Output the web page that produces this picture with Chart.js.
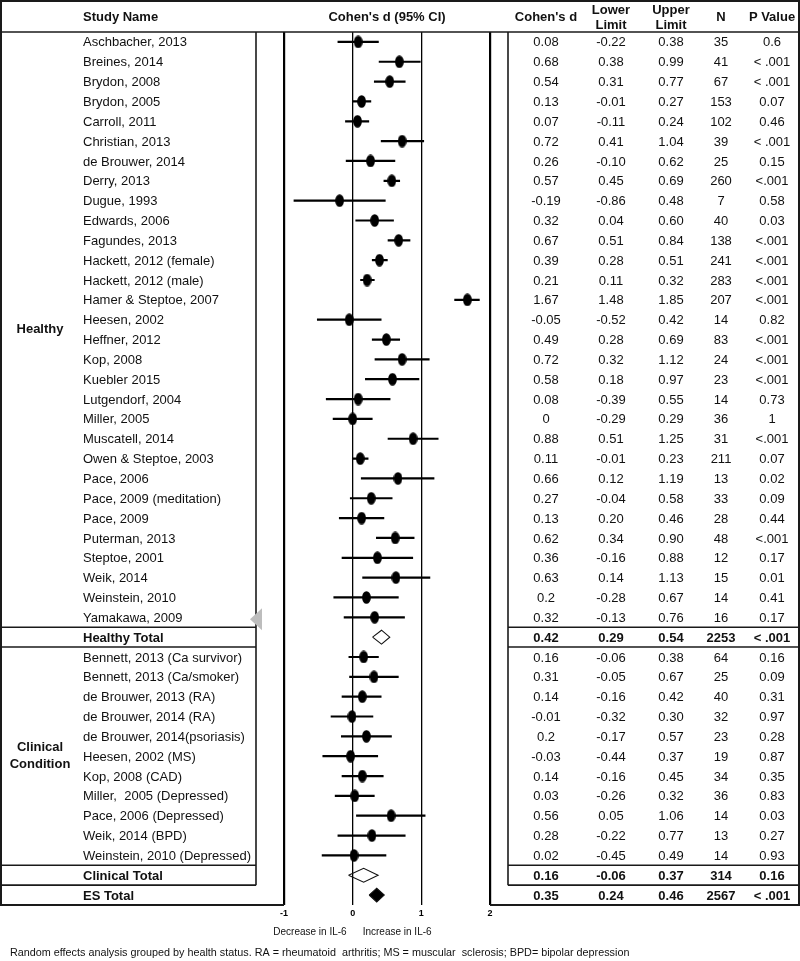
<!DOCTYPE html>
<html>
<head>
<meta charset="utf-8">
<script src="https://cdn.jsdelivr.net/npm/chart.js@4.4.1/dist/chart.umd.min.js"></script>
<style>html,body{margin:0;padding:0;background:#fff}canvas{display:block}</style>
</head>
<body>
<canvas id="c" width="800" height="961"></canvas>
<script>
// ---------- DATA ----------
const healthyNames = ["Aschbacher, 2013","Breines, 2014","Brydon, 2008","Brydon, 2005","Carroll, 2011","Christian, 2013","de Brouwer, 2014","Derry, 2013","Dugue, 1993","Edwards, 2006","Fagundes, 2013","Hackett, 2012 (female)","Hackett, 2012 (male)","Hamer & Steptoe, 2007","Heesen, 2002","Heffner, 2012","Kop, 2008","Kuebler 2015","Lutgendorf, 2004","Miller, 2005","Muscatell, 2014","Owen & Steptoe, 2003","Pace, 2006","Pace, 2009 (meditation)","Pace, 2009","Puterman, 2013","Steptoe, 2001","Weik, 2014","Weinstein, 2010","Yamakawa, 2009"];
const healthyD  = [0.08,0.68,0.54,0.13,0.07,0.72,0.26,0.57,-0.19,0.32,0.67,0.39,0.21,1.67,-0.05,0.49,0.72,0.58,0.08,0,0.88,0.11,0.66,0.27,0.13,0.62,0.36,0.63,0.2,0.32];
const healthyLo = [-0.22,0.38,0.31,-0.01,-0.11,0.41,-0.10,0.45,-0.86,0.04,0.51,0.28,0.11,1.48,-0.52,0.28,0.32,0.18,-0.39,-0.29,0.51,-0.01,0.12,-0.04,-0.20,0.34,-0.16,0.14,-0.28,-0.13];
const healthyLoLabels = ["-0.22","0.38","0.31","-0.01","-0.11","0.41","-0.10","0.45","-0.86","0.04","0.51","0.28","0.11","1.48","-0.52","0.28","0.32","0.18","-0.39","-0.29","0.51","-0.01","0.12","-0.04","0.20","0.34","-0.16","0.14","-0.28","-0.13"];
const healthyHi = [0.38,0.99,0.77,0.27,0.24,1.04,0.62,0.69,0.48,0.60,0.84,0.51,0.32,1.85,0.42,0.69,1.12,0.97,0.55,0.29,1.25,0.23,1.19,0.58,0.46,0.90,0.88,1.13,0.67,0.76];
const healthyN  = [35,41,67,153,102,39,25,260,7,40,138,241,283,207,14,83,24,23,14,36,31,211,13,33,28,48,12,15,14,16];
const healthyP  = ["0.6","< .001","< .001","0.07","0.46","< .001","0.15","<.001","0.58","0.03","<.001","<.001","<.001","<.001","0.82","<.001","<.001","<.001","0.73","1","<.001","0.07","0.02","0.09","0.44","<.001","0.17","0.01","0.41","0.17"];

const clinicalNames = ["Bennett, 2013 (Ca survivor)","Bennett, 2013 (Ca/smoker)","de Brouwer, 2013 (RA)","de Brouwer, 2014 (RA)","de Brouwer, 2014(psoriasis)","Heesen, 2002 (MS)","Kop, 2008 (CAD)","Miller,  2005 (Depressed)","Pace, 2006 (Depressed)","Weik, 2014 (BPD)","Weinstein, 2010 (Depressed)"];
const clinicalD  = [0.16,0.31,0.14,-0.01,0.2,-0.03,0.14,0.03,0.56,0.28,0.02];
const clinicalLo = [-0.06,-0.05,-0.16,-0.32,-0.17,-0.44,-0.16,-0.26,0.05,-0.22,-0.45];
const clinicalHi = [0.38,0.67,0.42,0.30,0.57,0.37,0.45,0.32,1.06,0.77,0.49];
const clinicalN  = [64,25,40,32,23,19,34,36,14,13,14];
const clinicalP  = ["0.16","0.09","0.31","0.97","0.28","0.87","0.35","0.83","0.03","0.27","0.93"];

const summaryNames = ["Healthy Total","Clinical Total","ES Total"];
const summaryD  = [0.42,0.16,0.35];
const summaryLo = [0.29,-0.06,0.24];
const summaryHi = [0.54,0.37,0.46];
const summaryN  = [2253,314,2567];
const summaryP  = ["< .001","0.16","< .001"];
const summaryFilled = [false,false,true];

const groupNames = [["Healthy"],["Clinical","Condition"]];
const xTickValues = [-1,0,1,2];
const xTickLabels = ["-1","0","1","2"];
const headerCols = [["Cohen's d"],["Lower","Limit"],["Upper","Limit"],["N"],["P Value"]];
const axisNotes = ["Decrease in IL-6","Increase in IL-6"];
const footnote = "Random effects analysis grouped by health status. RA = rheumatoid  arthritis; MS = muscular  sclerosis; BPD= bipolar depression";

// ---------- ROW TABLE BUILT FROM ARRAYS ----------
const rows = [];
healthyNames.forEach((nm,i)=>rows.push({name:nm,d:healthyD[i],lo:healthyLo[i],loTxt:healthyLoLabels[i],hi:healthyHi[i],n:healthyN[i],p:healthyP[i],sum:-1}));
rows.push({name:summaryNames[0],d:summaryD[0],lo:summaryLo[0],hi:summaryHi[0],n:summaryN[0],p:summaryP[0],sum:0});
clinicalNames.forEach((nm,i)=>rows.push({name:nm,d:clinicalD[i],lo:clinicalLo[i],hi:clinicalHi[i],n:clinicalN[i],p:clinicalP[i],sum:-1}));
rows.push({name:summaryNames[1],d:summaryD[1],lo:summaryLo[1],hi:summaryHi[1],n:summaryN[1],p:summaryP[1],sum:1});
rows.push({name:summaryNames[2],d:summaryD[2],lo:summaryLo[2],hi:summaryHi[2],n:summaryN[2],p:summaryP[2],sum:2});
const healthyRows = [0, healthyNames.length-1];
const clinicalRows = [healthyNames.length+1, healthyNames.length+clinicalNames.length];

const ciData = [], ptData = [];
const diamondSets = [];
const DH = 0.35;
rows.forEach((r,i)=>{
  if (r.sum < 0) {
    ciData.push({x:r.lo,y:i},{x:r.hi,y:i},{x:null,y:null});
    ptData.push({x:r.d,y:i});
  } else {
    const filled = summaryFilled[r.sum];
    diamondSets.push({
      label: r.name,
      data:[{x:r.lo,y:i},{x:r.d,y:i-DH},{x:r.hi,y:i},{x:r.d,y:i+DH},{x:r.lo,y:i}],
      showLine:true, pointRadius:0, borderColor:'#111', borderWidth:1.1,
      backgroundColor: filled ? '#000' : '#fff', fill: filled ? 'shape' : false, tension:0
    });
  }
});

// ellipse marker
const ell = document.createElement('canvas'); ell.width = 9; ell.height = 13;
const ectx = ell.getContext('2d'); ectx.fillStyle = '#000';
ectx.beginPath(); ectx.ellipse(4.5,6.5,4.4,6.3,0,0,Math.PI*2); ectx.fill();

const FONT = '"Liberation Sans", Arial, Helvetica, sans-serif';
const colX = [546, 611, 671, 721, 772];

const tablePlugin = {
  id:'forestTable',
  afterDraw(chart){
    const c = chart.ctx, ys = chart.scales.y, xs = chart.scales.x;
    const yp = v => ys.getPixelForValue(v);
    const top = 1, hdr = yp(-0.5), bot = yp(rows.length-0.5);
    const leftR = 256, rightL = 508, W = 800;
    const xMin = xs.getPixelForValue(xTickValues[0]), xMax = xs.getPixelForValue(xTickValues[xTickValues.length-1]);
    c.save();
    c.strokeStyle = '#1a1a1a';
    const line = (x1,y1,x2,y2,w)=>{c.lineWidth=w;c.beginPath();c.moveTo(x1,y1);c.lineTo(x2,y2);c.stroke();};
    line(0,top,W,top,2);
    line(0,hdr,W,hdr,1.6);
    line(1,0,1,bot,2);
    line(W-1,0,W-1,bot,2);
    const sumRowIdx = rows.map((r,i)=>r.sum>=0?i:-1).filter(i=>i>=0);
    const lastSum = yp(sumRowIdx[1]+0.5);
    line(leftR,hdr,leftR,lastSum,1.6);
    line(rightL,hdr,rightL,lastSum,1.6);
    [sumRowIdx[0]-0.5,sumRowIdx[0]+0.5,sumRowIdx[1]-0.5,sumRowIdx[1]+0.5].forEach(v=>{
      const y = yp(v); line(0,y,leftR,y,1.6); line(rightL,y,W,y,1.6);
    });
    line(0,bot,xMin,bot,2); line(xMax,bot,W,bot,2);

    // grey arrow artifact
    const ty = yp(healthyRows[1]+0.1);
    c.fillStyle = '#bdbdbd';
    c.beginPath(); c.moveTo(250,ty); c.lineTo(262,ty-11); c.lineTo(262,ty+11); c.closePath(); c.fill();

    c.fillStyle = '#111'; c.textBaseline = 'middle';
    // header
    c.font = 'bold 13px '+FONT;
    c.textAlign = 'left'; c.fillText('Study Name', 83, 17);
    c.textAlign = 'center'; c.fillText("Cohen's d (95% CI)", (xMin+xMax)/2, 17);
    headerCols.forEach((lines,k)=>{
      if (lines.length===1) c.fillText(lines[0], colX[k], 17);
      else { c.fillText(lines[0], colX[k], 10); c.fillText(lines[1], colX[k], 25); }
    });
    // group labels
    c.fillText(groupNames[0][0], 40, yp((healthyRows[0]+healthyRows[1])/2));
    const cm = yp((clinicalRows[0]+clinicalRows[1])/2);
    c.fillText(groupNames[1][0], 40, cm-8.5);
    c.fillText(groupNames[1][1], 40, cm+8.5);
    // rows
    rows.forEach((r,i)=>{
      const y = yp(i)+1;
      c.font = (r.sum>=0?'bold ':'')+'13px '+FONT;
      c.textAlign = 'left'; c.fillText(r.name, 83, y);
      c.textAlign = 'center';
      const cells = [String(r.d), r.loTxt!==undefined ? r.loTxt : r.lo.toFixed(2), r.hi.toFixed(2), String(r.n), r.p];
      cells.forEach((t,k)=>c.fillText(t, colX[k], y));
    });
    // axis notes
    const x0 = xs.getPixelForValue(0);
    c.font = '10px '+FONT;
    c.textAlign = 'right'; c.fillText(axisNotes[0], x0-6, 932);
    c.textAlign = 'left'; c.fillText(axisNotes[1], x0+10, 932);
    c.font = '10.8px '+FONT;
    c.fillText(footnote, 10, 953);
    c.restore();
  }
};

new Chart(document.getElementById('c'), {
  type:'scatter',
  data:{ datasets:[
    {label:'95% CI', data:ciData, showLine:true, spanGaps:false, borderColor:'#000', borderWidth:2.2, pointRadius:0},
    {label:"Cohen's d", data:ptData, pointStyle:ell, pointRadius:5, showLine:false, backgroundColor:'#000', borderColor:'#000'},
    ...diamondSets
  ]},
  options:{
    responsive:false, animation:false, devicePixelRatio:1, events:[],
    layout:{padding:{left:284,right:310,top:32,bottom:36}},
    plugins:{legend:{display:false}, tooltip:{enabled:false}},
    scales:{
      x:{type:'linear', min:-1, max:2, position:'bottom',
        afterFit: s=>{ s.height = 20; },
        afterBuildTicks: s=>{ s.ticks = xTickValues.map(v=>({value:v})); },
        ticks:{ autoSkip:false, maxRotation:0, padding:3, color:'#000',
          font:{family:FONT, size:9, weight:'bold'},
          callback: v => xTickLabels[xTickValues.indexOf(v)] },
        grid:{ drawTicks:false, color:'#000',
          lineWidth: ctx => (ctx.tick && (ctx.tick.value===-1 || ctx.tick.value===2)) ? 2.2 : 1.3 },
        border:{display:false}
      },
      y:{type:'linear', min:-0.5, max:rows.length-0.5, reverse:true, display:false}
    }
  },
  plugins:[tablePlugin]
});
</script>
</body>
</html>
